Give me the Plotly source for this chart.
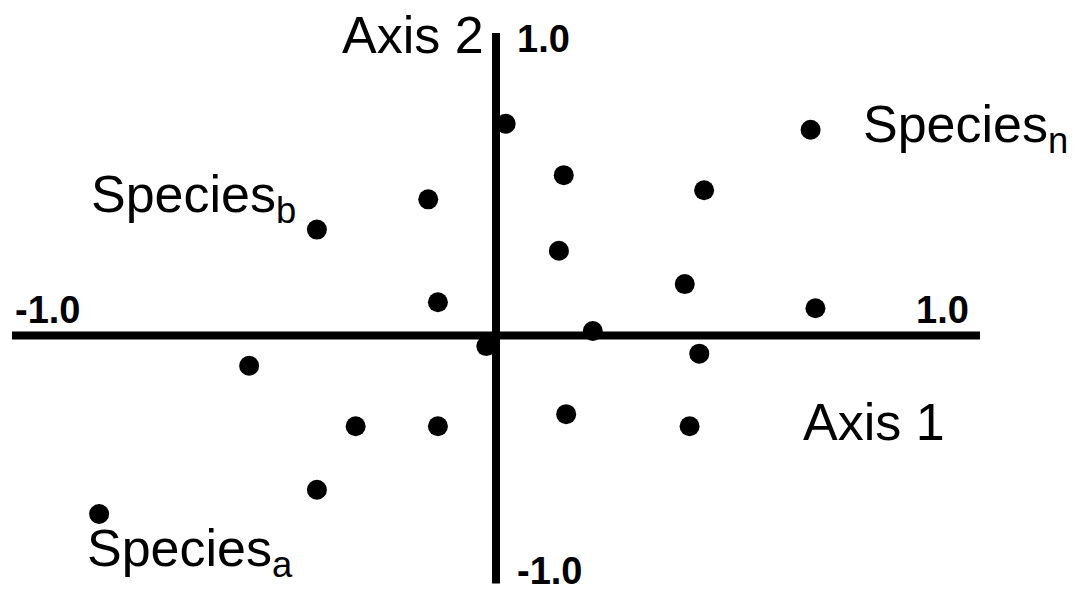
import plotly.graph_objects as go

# Ordination scores (Axis 1, Axis 2)
axis1_scores = [0.02, 0.65, 0.14, 0.43, -0.14, -0.37, 0.13, 0.39, -0.12, 0.66,
                0.20, -0.02, 0.42, -0.51, 0.145, -0.29, -0.12, 0.40, -0.37, -0.82]
axis2_scores = [0.70, 0.68, 0.53, 0.48, 0.45, 0.35, 0.28, 0.17, 0.11, 0.09,
                0.015, -0.035, -0.06, -0.10, -0.26, -0.30, -0.30, -0.30, -0.51, -0.59]

axis1_extent = [-1.0, 1.0]
axis2_extent = [-0.82, 1.0]
tick_labels = ["-1.0", "1.0"]
species_labels = ["Species<sub>a</sub>", "Species<sub>b</sub>", "Species<sub>n</sub>"]
axis_titles = ["Axis 1", "Axis 2"]

FONT = "Liberation Sans, Arial, sans-serif"
big = dict(family=FONT, size=52, color="black")
bold = dict(family=FONT, size=38, color="black", weight="bold")

fig = go.Figure()

# axes lines
fig.add_trace(go.Scatter(x=axis1_extent, y=[0, 0], mode="lines",
                         line=dict(color="black", width=8), hoverinfo="skip"))
fig.add_trace(go.Scatter(x=[0, 0], y=axis2_extent, mode="lines",
                         line=dict(color="black", width=8), hoverinfo="skip"))

fig.add_trace(go.Scatter(x=axis1_scores, y=axis2_scores, mode="markers",
                         marker=dict(color="black", size=20, line=dict(width=0))))

ann = []
# Axis titles
ann.append(dict(x=-0.02, y=0.995, text=axis_titles[1], xanchor="right", yanchor="middle", font=big))
ann.append(dict(x=0.63, y=-0.285, text=axis_titles[0], xanchor="left", yanchor="middle", font=big))
# tick labels
ann.append(dict(x=0.04, y=0.98, text=tick_labels[1], xanchor="left", yanchor="middle", font=bold))
ann.append(dict(x=0.04, y=-0.78, text=tick_labels[0], xanchor="left", yanchor="middle", font=bold))
ann.append(dict(x=-0.998, y=0.085, text=tick_labels[0], xanchor="left", yanchor="middle", font=bold))
ann.append(dict(x=0.981, y=0.085, text=tick_labels[1], xanchor="right", yanchor="middle", font=bold))
# species labels
ann.append(dict(x=-0.85, y=-0.715, text=species_labels[0], xanchor="left", yanchor="middle", font=big))
ann.append(dict(x=-0.84, y=0.455, text=species_labels[1], xanchor="left", yanchor="middle", font=big))
ann.append(dict(x=0.755, y=0.685, text=species_labels[2], xanchor="left", yanchor="middle", font=big))
for a in ann:
    a.update(xref="x", yref="y", showarrow=False)

fig.update_layout(
    width=1080, height=591,
    margin=dict(l=0, r=0, t=0, b=0),
    paper_bgcolor="white", plot_bgcolor="white",
    showlegend=False,
    annotations=ann,
    xaxis=dict(range=[-1.02479, 1.20661], visible=False, fixedrange=True),
    yaxis=dict(range=[-0.84463, 1.10909], visible=False, fixedrange=True),
)

fig.write_html("out.html", config={"displayModeBar": False},
               post_script="document.body.style.margin='0';document.body.style.overflow='hidden';")
